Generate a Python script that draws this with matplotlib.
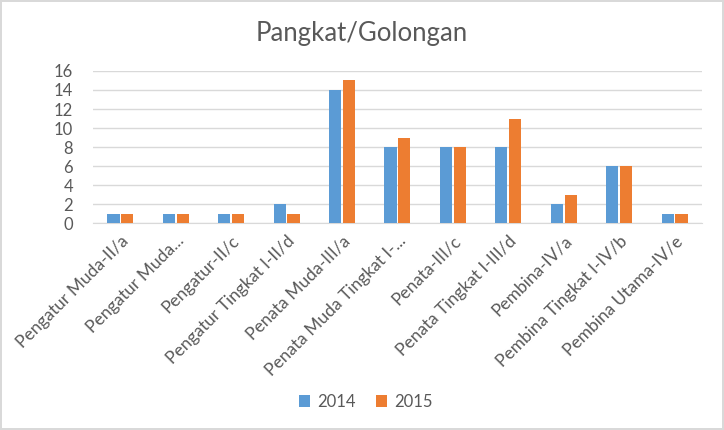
import numpy as np
import matplotlib
matplotlib.use("Agg")
from matplotlib import pyplot as plt

plt.rcParams['font.family'] = ['Lato', 'DejaVu Sans']

kategori = ['Pengatur Muda-II/a', 'Pengatur Muda...', 'Pengatur-II/c',
            'Pengatur Tingkat I-II/d', 'Penata Muda-III/a',
            'Penata Muda Tingkat I-...', 'Penata-III/c',
            'Penata Tingkat I-III/d', 'Pembina-IV/a',
            'Pembina Tingkat I-IV/b', 'Pembina Utama-IV/e']
nilai2014 = [1, 1, 1, 2, 14, 8, 8, 8, 2, 6, 1]
nilai2015 = [1, 1, 1, 1, 15, 9, 8, 11, 3, 6, 1]

abu = '#595959'
fig = plt.figure(figsize=(7.24, 4.30), dpi=100)
fig.patch.set_edgecolor('#d9d9d9')
fig.patch.set_linewidth(1.5)
ax = fig.add_axes([0.128, 0.481, 0.842, 0.354])

x = np.arange(len(kategori))
w = 0.22
ax.bar(x - 0.125, nilai2014, w, color='#5B9BD5', label='2014', zorder=3)
ax.bar(x + 0.125, nilai2015, w, color='#ED7D31', label='2015', zorder=3)

ax.set_xlim(-0.5, len(kategori) - 0.5)
ax.set_ylim(0, 16)
ax.set_yticks(range(0, 17, 2))
ax.grid(axis='y', color='#d9d9d9', linewidth=1, zorder=0)
for s in ['top', 'right', 'left']:
    ax.spines[s].set_visible(False)
ax.spines['bottom'].set_color('#d9d9d9')
ax.tick_params(axis='both', length=0, colors=abu, labelsize=12)
ax.tick_params(axis='y', pad=14)
ax.tick_params(axis='x', pad=7)
ax.set_xticks(x)
ax.set_xticklabels(kategori, rotation=45, ha='right', rotation_mode='anchor',
                   fontsize=12.5, color=abu)

fig.text(0.5, 0.923, 'Pangkat/Golongan', ha='center', va='center',
         fontsize=18.5, color=abu)
fig.legend(loc='center', bbox_to_anchor=(0.505, 0.065), ncol=2, frameon=False,
           fontsize=12, labelcolor=abu, handlelength=0.7, handleheight=0.7,
           handletextpad=0.4, columnspacing=1.2)

fig.savefig('out.png', dpi=100)
